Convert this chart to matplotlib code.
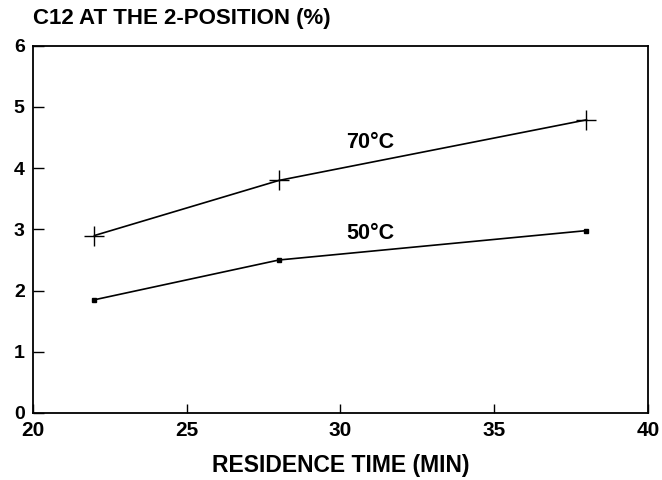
import matplotlib
matplotlib.use("Agg")
import matplotlib.pyplot as plt

plt.rcParams["font.family"] = ["Liberation Sans", "DejaVu Sans"]
plt.rcParams["font.weight"] = "bold"

# dados
tempo = [22, 28, 38]
c12_70 = [2.9, 3.8, 4.79]
c12_50 = [1.85, 2.5, 2.98]

fig = plt.figure(figsize=(6.62, 4.8), dpi=100)
ax = fig.add_axes([0.0498, 0.1396, 0.929, 0.765])

ax.plot(tempo, c12_70, color="black", lw=1.2, marker="+", ms=14, mew=1.0)
ax.plot(tempo, c12_50, color="black", lw=1.2, marker="s", ms=3.5)

ax.text(30.98, 4.42, "70°C", fontsize=15.5, fontweight="bold", ha="center", va="center")
ax.text(30.98, 2.93, "50°C", fontsize=15.5, fontweight="bold", ha="center", va="center")

ax.set_xlim(20, 40)
ax.set_ylim(0, 6)
ax.set_xticks([20, 25, 30, 35, 40])
ax.set_yticks([0, 1, 2, 3, 4, 5, 6])
ax.tick_params(axis="x", direction="in", length=6.5, width=1, labelsize=15, pad=6)
ax.tick_params(axis="y", direction="in", length=8, width=1, labelsize=14, pad=6)
for lab in ax.get_xticklabels() + ax.get_yticklabels():
    lab.set_fontweight("bold")
for s in ax.spines.values():
    s.set_linewidth(1.3)

fig.text(0.515, 0.03, "RESIDENCE TIME (MIN)", fontsize=16.5, fontweight="bold", ha="center", va="center")
fig.text(0.05, 0.962, "C12 AT THE 2-POSITION (%)", fontsize=16, fontweight="bold", ha="left", va="center")

fig.savefig("out.png", dpi=100)
